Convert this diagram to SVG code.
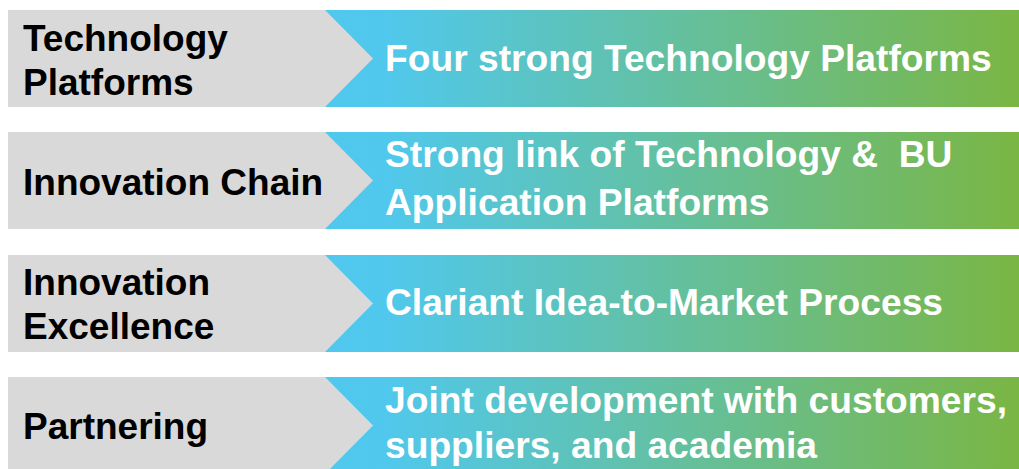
<svg xmlns="http://www.w3.org/2000/svg" width="1019" height="469" viewBox="0 0 1019 469">
<defs>
<linearGradient id="g" gradientUnits="userSpaceOnUse" x1="293" y1="0" x2="1019" y2="0">
<stop offset="0" stop-color="#50C8EF"/>
<stop offset="0.12" stop-color="#50C8EE"/>
<stop offset="1" stop-color="#7AB644"/>
</linearGradient>
<style>
.bar{fill:url(#g)}
.chev{fill:#D9D9D9}
.lbl{font-family:"Liberation Sans",Arial,sans-serif;font-weight:bold;font-size:37px;fill:#000}
.desc{font-family:"Liberation Sans",Arial,sans-serif;font-weight:bold;font-size:37.2px;fill:#fff;white-space:pre}
</style>
</defs>
<rect width="1019" height="469" fill="#fff"/>
<g id="row1">
<rect class="bar" x="293" y="10" width="726" height="97"/>
<polygon class="chev" points="8,10 325,10 373,58.5 325,107 8,107"/>
<text class="lbl" x="23" y="51">Technology</text>
<text class="lbl" x="23" y="95">Platforms</text>
<text class="desc" x="385" y="71">Four strong Technology Platforms</text>
</g>
<g id="row2">
<rect class="bar" x="293" y="132" width="726" height="97"/>
<polygon class="chev" points="8,132 325,132 373,180.5 325,229 8,229"/>
<text class="lbl" x="23" y="195">Innovation Chain</text>
<text class="desc" x="385" y="167" xml:space="preserve">Strong link of Technology &amp;  BU</text>
<text class="desc" x="385" y="215">Application Platforms</text>
</g>
<g id="row3">
<rect class="bar" x="293" y="255" width="726" height="97"/>
<polygon class="chev" points="8,255 325,255 373,303.5 325,352 8,352"/>
<text class="lbl" x="23" y="295">Innovation</text>
<text class="lbl" x="23" y="339">Excellence</text>
<text class="desc" x="385" y="315">Clariant Idea-to-Market Process</text>
</g>
<g id="row4">
<rect class="bar" x="293" y="377" width="726" height="97"/>
<polygon class="chev" points="8,377 325,377 373,425.5 325,474 8,474"/>
<text class="lbl" x="23" y="439">Partnering</text>
<text class="desc" x="385" y="413">Joint development with customers,</text>
<text class="desc" x="385" y="458">suppliers, and academia</text>
</g>
<g id="connectors"/>
</svg>
